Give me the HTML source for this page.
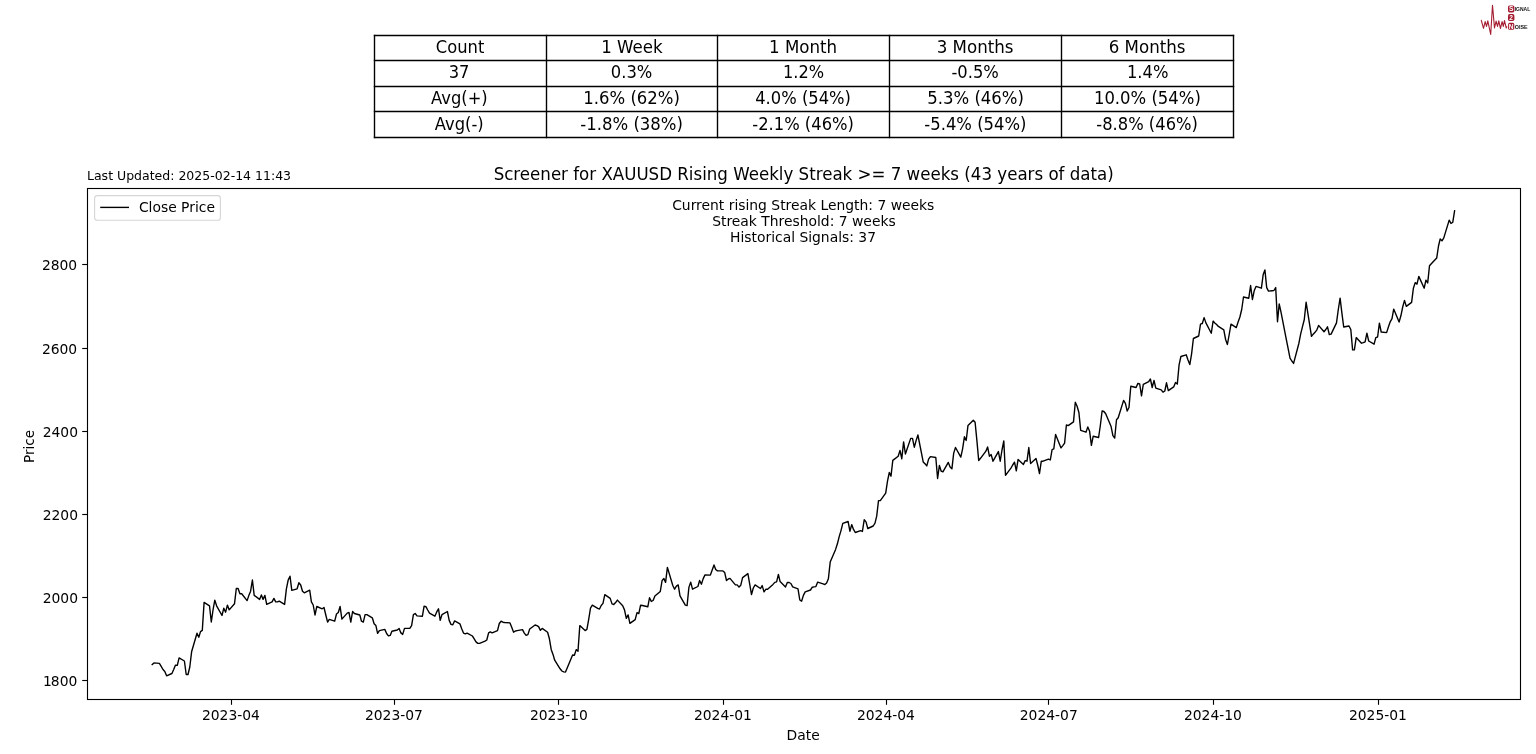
<!DOCTYPE html>
<html lang="en">
<head>
<meta charset="utf-8">
<title>Screener for XAUUSD Rising Weekly Streak</title>
<style>
html,body{margin:0;padding:0;background:#fff;}
body{width:1536px;height:754px;overflow:hidden;font-family:'DejaVu Sans','Liberation Sans',sans-serif;}
svg{display:block;}
</style>
</head>
<body>
<svg width="1536" height="754" viewBox="0 0 1536 754" font-family="'DejaVu Sans','Liberation Sans',sans-serif">
<rect width="1536" height="754" fill="#fff"/>
<g id="table" fill="none" stroke="#000" stroke-width="1.39" stroke-linecap="square">
<line x1="374.5" y1="35.5" x2="1233.5" y2="35.5"/>
<line x1="374.5" y1="60.5" x2="1233.5" y2="60.5"/>
<line x1="374.5" y1="86.5" x2="1233.5" y2="86.5"/>
<line x1="374.5" y1="111.5" x2="1233.5" y2="111.5"/>
<line x1="374.5" y1="137.5" x2="1233.5" y2="137.5"/>
<line x1="374.5" y1="35.5" x2="374.5" y2="137.5"/>
<line x1="546.5" y1="35.5" x2="546.5" y2="137.5"/>
<line x1="717.5" y1="35.5" x2="717.5" y2="137.5"/>
<line x1="889.5" y1="35.5" x2="889.5" y2="137.5"/>
<line x1="1061.5" y1="35.5" x2="1061.5" y2="137.5"/>
<line x1="1233.5" y1="35.5" x2="1233.5" y2="137.5"/>
</g>
<g id="table-text" font-size="16.67" text-anchor="middle" fill="#000">
<text transform="translate(460.10,53) scale(0.98,1.08)">Count</text>
<text transform="translate(631.90,53) scale(1.0,1.08)">1 Week</text>
<text transform="translate(803.10,53) scale(1.0,1.08)">1 Month</text>
<text transform="translate(975.10,53) scale(1.0,1.08)">3 Months</text>
<text transform="translate(1147.10,53) scale(1.0,1.08)">6 Months</text>
<text transform="translate(459.10,78) scale(0.98,1.08)">37</text>
<text transform="translate(631.60,78) scale(0.98,1.08)">0.3%</text>
<text transform="translate(803.50,78) scale(0.97,1.08)">1.2%</text>
<text transform="translate(975.10,78) scale(0.98,1.08)">-0.5%</text>
<text transform="translate(1147.70,78) scale(0.98,1.08)">1.4%</text>
<text transform="translate(459.40,104) scale(0.98,1.08)">Avg(+)</text>
<text transform="translate(631.60,104) scale(0.99,1.08)">1.6% (62%)</text>
<text transform="translate(803.10,104) scale(0.98,1.08)">4.0% (54%)</text>
<text transform="translate(975.60,104) scale(0.99,1.08)">5.3% (46%)</text>
<text transform="translate(1147.40,104) scale(0.988,1.08)">10.0% (54%)</text>
<text transform="translate(459.20,130) scale(0.98,1.08)">Avg(-)</text>
<text transform="translate(631.60,130) scale(0.99,1.08)">-1.8% (38%)</text>
<text transform="translate(803.10,130) scale(0.98,1.08)">-2.1% (46%)</text>
<text transform="translate(975.35,130) scale(0.985,1.08)">-5.4% (54%)</text>
<text transform="translate(1147.10,130) scale(0.98,1.08)">-8.8% (46%)</text>
</g>
<text transform="translate(803.70,180) scale(1,1.08)" font-size="16.67" text-anchor="middle">Screener for XAUUSD Rising Weekly Streak &gt;= 7 weeks (43 years of data)</text>
<text x="87.00" y="180" font-size="12.5">Last Updated: 2025-02-14 11:43</text>
<rect x="87.5" y="188.5" width="1433.0" height="511.0" fill="#fff" stroke="#000" stroke-width="1.11" stroke-linejoin="miter"/>
<g id="ticks" stroke="#000" stroke-width="1.11">
<line x1="231.5" y1="699.5" x2="231.5" y2="704.80"/>
<line x1="394.5" y1="699.5" x2="394.5" y2="704.80"/>
<line x1="558.5" y1="699.5" x2="558.5" y2="704.80"/>
<line x1="723.5" y1="699.5" x2="723.5" y2="704.80"/>
<line x1="886.5" y1="699.5" x2="886.5" y2="704.80"/>
<line x1="1048.5" y1="699.5" x2="1048.5" y2="704.80"/>
<line x1="1213.5" y1="699.5" x2="1213.5" y2="704.80"/>
<line x1="1378.5" y1="699.5" x2="1378.5" y2="704.80"/>
<line x1="87.5" y1="680.5" x2="82.20" y2="680.5"/>
<line x1="87.5" y1="597.5" x2="82.20" y2="597.5"/>
<line x1="87.5" y1="514.5" x2="82.20" y2="514.5"/>
<line x1="87.5" y1="431.5" x2="82.20" y2="431.5"/>
<line x1="87.5" y1="348.5" x2="82.20" y2="348.5"/>
<line x1="87.5" y1="264.5" x2="82.20" y2="264.5"/>
</g>
<g id="ticklabels" font-size="13.89" fill="#000">
<text x="230.90" y="720" text-anchor="middle">2023-04</text>
<text x="393.90" y="720" text-anchor="middle">2023-07</text>
<text x="558.90" y="720" text-anchor="middle">2023-10</text>
<text x="722.90" y="720" text-anchor="middle">2024-01</text>
<text x="885.90" y="720" text-anchor="middle">2024-04</text>
<text x="1048.80" y="720" text-anchor="middle">2024-07</text>
<text x="1212.90" y="720" text-anchor="middle">2024-10</text>
<text x="1377.90" y="720" text-anchor="middle">2025-01</text>
<text x="76.3" y="686" text-anchor="end"><tspan dx="1">1</tspan><tspan dx="-1">800</tspan></text>
<text x="78.0" y="603" text-anchor="end">2000</text>
<text x="78.0" y="520" text-anchor="end">2200</text>
<text x="78.0" y="437" text-anchor="end">2400</text>
<text x="77.2" y="354" text-anchor="end">2600</text>
<text x="77.2" y="270" text-anchor="end">2800</text>
</g>
<text x="803.20" y="740" font-size="13.89" text-anchor="middle">Date</text>
<text transform="translate(33.55,446.5) rotate(-90) scale(0.975,1)" font-size="13.89" text-anchor="middle">Price</text>
<g font-size="13.89" text-anchor="middle">
<text x="803.25" y="210">Current rising Streak Length: 7 weeks</text>
<text x="803.95" y="226">Streak Threshold: 7 weeks</text>
<text x="803.00" y="242">Historical Signals: 37</text>
</g>
<rect x="94.6" y="195.6" width="125.8" height="24.6" rx="2.8" ry="2.8" fill="#fff" fill-opacity="0.8" stroke="#ccc" stroke-opacity="0.8" stroke-width="1.11"/>
<line x1="100.2" y1="207.4" x2="129" y2="207.4" stroke="#000" stroke-width="1.39"/>
<text x="138.9" y="212" font-size="13.89">Close Price</text>
<polyline id="close" points="152.2,664.5 154.0,662.9 159.4,663.4 161.2,666.4 163.0,669.5 164.8,671.4 166.6,675.8 171.9,673.5 173.7,669.5 175.5,665.1 177.3,665.4 179.1,657.9 184.4,661.0 186.2,674.5 188.0,674.5 189.8,667.0 191.6,651.8 197.0,633.2 198.8,637.2 200.5,631.6 202.3,630.4 204.1,602.4 209.5,605.8 211.3,622.0 213.1,609.5 214.8,600.1 216.6,605.8 222.0,615.5 223.8,608.2 225.6,612.2 227.4,605.1 229.2,609.9 234.5,603.8 236.3,588.5 238.1,588.5 239.9,593.8 241.7,593.8 247.1,600.6 248.8,595.6 250.6,591.2 252.4,580.0 254.2,595.4 259.6,599.4 261.4,595.0 263.1,599.4 264.9,595.4 266.7,604.4 272.1,601.9 273.9,598.4 275.7,601.9 277.5,601.9 279.2,601.2 284.6,604.4 286.4,588.8 288.2,580.0 290.0,576.2 291.8,590.4 297.1,588.8 298.9,582.8 300.7,585.0 302.5,591.2 304.3,592.8 309.7,590.2 311.4,601.9 313.2,605.0 315.0,615.0 316.8,606.5 322.2,608.8 324.0,607.5 325.8,615.0 327.6,622.1 329.3,619.4 334.7,621.2 336.5,614.0 338.3,612.5 340.1,606.5 341.9,619.1 347.2,613.1 349.0,612.5 350.8,622.1 352.6,611.5 354.4,613.5 359.8,615.0 361.5,621.2 363.3,622.1 365.1,614.6 366.9,614.6 372.3,617.8 374.1,623.8 375.9,625.6 377.6,633.4 379.4,630.6 384.8,629.4 386.6,633.5 388.4,635.9 390.2,635.4 391.9,631.2 397.3,630.0 399.1,628.5 400.9,632.9 402.7,634.4 404.5,628.4 409.8,628.4 411.6,625.6 413.4,614.6 415.2,613.5 417.0,615.9 422.4,616.2 424.1,606.2 425.9,606.6 427.7,610.0 429.5,613.1 434.9,616.2 436.7,611.9 438.5,608.8 440.2,620.4 442.0,614.6 447.4,611.5 449.2,620.4 451.0,624.4 452.8,624.8 454.6,620.9 459.9,623.8 461.7,628.8 463.5,633.1 465.3,633.8 467.1,633.1 472.4,636.0 474.2,638.8 476.0,641.9 477.8,643.4 479.6,643.4 485.0,641.2 486.8,640.0 488.6,632.9 490.3,631.9 492.1,632.9 497.5,630.6 499.3,623.5 501.1,621.2 502.9,622.2 504.6,622.5 510.0,622.9 511.8,627.5 513.6,632.2 515.4,631.0 517.2,630.6 522.5,629.6 524.3,633.1 526.1,635.4 527.9,634.6 529.7,629.0 535.1,625.0 536.9,625.6 538.6,626.6 540.4,630.4 542.2,628.4 547.6,632.2 549.4,638.8 551.2,649.4 553.0,654.4 554.7,660.2 560.1,668.8 561.9,671.0 563.7,671.9 565.5,672.1 567.3,667.8 572.6,655.0 574.4,655.2 576.2,649.6 578.0,651.2 579.8,625.6 585.1,630.6 586.9,629.4 588.7,619.3 590.5,608.1 592.3,605.2 597.7,608.4 599.5,609.0 601.2,605.5 603.0,603.4 604.8,594.6 610.2,598.4 612.0,603.9 613.8,604.5 615.6,602.6 617.4,600.1 622.7,605.8 624.5,609.9 626.3,618.4 628.1,614.9 629.9,623.4 635.2,619.6 637.0,612.6 638.8,613.6 640.6,605.2 642.4,605.5 647.8,606.8 649.5,597.8 651.3,601.4 653.1,600.5 654.9,596.1 660.3,591.4 662.1,580.5 663.9,578.6 665.6,582.4 667.4,567.4 672.8,585.5 674.6,589.2 676.4,586.1 678.2,584.9 680.0,595.9 685.3,605.1 687.1,605.5 688.9,587.4 690.7,582.1 692.5,589.2 697.9,586.5 699.6,580.5 701.4,584.2 703.2,578.6 705.0,574.9 710.4,575.1 712.2,569.9 714.0,564.9 715.7,569.5 717.5,570.9 722.9,570.9 724.7,572.6 726.5,580.5 728.3,579.0 730.0,578.4 735.4,584.9 737.2,584.9 739.0,587.1 740.8,585.2 742.6,577.6 747.9,573.6 749.7,584.2 751.5,594.6 753.3,588.0 755.1,584.9 760.5,588.5 762.2,585.6 764.0,591.9 765.8,589.3 767.6,589.2 773.0,584.4 774.8,582.4 776.6,581.9 778.4,574.4 780.1,581.6 785.5,586.9 787.3,582.5 789.1,582.5 790.9,583.5 792.7,586.9 798.0,588.8 799.8,600.0 801.6,601.2 803.4,595.4 805.2,591.9 810.5,590.0 812.3,587.2 814.1,586.9 815.9,586.6 817.7,582.1 823.1,583.8 824.9,584.6 826.6,583.1 828.4,578.8 830.2,562.1 835.6,549.4 837.4,543.8 839.2,536.6 841.0,530.6 842.8,523.4 848.1,521.5 849.9,531.2 851.7,524.6 853.5,529.4 855.3,532.5 860.6,530.6 862.4,531.5 864.2,519.8 866.0,521.9 867.8,528.5 873.2,526.0 875.0,523.1 876.7,516.2 878.5,500.6 880.3,500.6 885.7,493.1 887.5,481.2 889.3,472.5 891.0,476.2 892.8,460.4 898.2,456.2 900.0,450.4 901.8,458.8 903.6,441.9 905.4,454.0 910.7,438.4 912.5,438.4 914.3,447.2 916.1,440.6 917.9,435.0 923.2,461.9 925.0,463.8 926.8,465.9 928.6,459.1 930.4,456.6 935.8,457.5 937.6,478.5 939.4,465.4 941.1,471.0 942.9,471.8 948.3,462.4 950.1,466.9 951.9,468.8 953.7,453.1 955.5,447.5 960.8,457.1 962.6,448.8 964.4,436.8 966.2,440.5 968.0,425.4 973.3,420.2 975.1,422.2 976.9,440.6 978.7,460.5 980.5,458.3 985.9,451.2 987.6,446.9 989.4,456.2 991.2,454.6 993.0,461.2 998.4,451.6 1000.2,461.2 1002.0,450.0 1003.8,440.9 1005.5,475.3 1010.9,468.1 1012.7,465.0 1014.5,462.2 1016.3,470.9 1018.1,459.4 1023.4,464.4 1025.2,460.6 1027.0,461.2 1028.8,447.5 1030.6,463.5 1036.0,458.4 1037.7,465.0 1039.5,473.5 1041.3,461.2 1043.1,461.2 1048.5,459.1 1050.3,460.0 1052.1,449.6 1053.8,448.8 1055.6,434.4 1061.0,447.9 1062.8,445.6 1064.6,443.1 1066.4,425.0 1068.2,425.6 1073.5,421.9 1075.3,402.2 1077.1,406.2 1078.9,412.5 1080.7,430.4 1086.0,432.2 1087.8,426.9 1089.6,431.2 1091.4,445.4 1093.2,436.2 1098.6,437.5 1100.4,425.0 1102.1,411.0 1103.9,411.5 1105.7,413.8 1111.1,426.6 1112.9,435.6 1114.7,438.1 1116.5,419.8 1118.2,417.8 1123.6,400.4 1125.4,403.4 1127.2,411.0 1129.0,407.5 1130.8,386.2 1136.1,387.5 1137.9,383.4 1139.7,384.0 1141.5,395.9 1143.3,384.4 1148.7,381.6 1150.4,379.0 1152.2,387.5 1154.0,380.4 1155.8,388.1 1161.2,389.8 1163.0,392.2 1164.8,391.0 1166.5,382.8 1168.3,390.6 1173.7,386.9 1175.5,382.5 1177.3,384.1 1179.1,364.8 1180.9,356.5 1186.2,354.8 1188.0,360.0 1189.8,364.6 1191.6,353.8 1193.4,338.5 1198.7,336.0 1200.5,324.1 1202.3,323.5 1204.1,317.6 1205.9,322.9 1211.3,333.2 1213.1,321.1 1214.8,322.9 1216.6,324.5 1218.4,326.4 1223.8,329.8 1225.6,339.5 1227.4,344.5 1229.2,334.5 1231.0,324.1 1236.3,327.6 1238.1,322.0 1239.9,317.0 1241.7,309.5 1243.5,297.0 1248.8,298.2 1250.6,285.5 1252.4,299.5 1254.2,290.8 1256.0,286.4 1261.4,288.2 1263.2,274.5 1264.9,269.9 1266.7,287.6 1268.5,291.1 1273.9,290.5 1275.7,287.6 1277.5,321.8 1279.2,303.9 1281.0,312.2 1286.4,339.8 1288.2,348.9 1290.0,358.1 1291.8,361.0 1293.6,363.4 1298.9,343.2 1300.7,333.9 1302.5,326.6 1304.3,319.5 1306.1,302.2 1311.5,336.4 1313.2,334.2 1315.0,332.2 1316.8,330.1 1318.6,325.4 1324.0,331.8 1325.8,329.5 1327.5,326.8 1329.3,334.5 1331.1,334.1 1336.5,322.9 1338.3,309.5 1340.1,298.2 1341.9,313.2 1343.7,327.0 1349.0,326.0 1350.8,329.5 1352.6,349.9 1354.4,349.9 1356.2,337.6 1361.5,343.2 1363.3,342.6 1365.1,341.8 1366.9,333.2 1368.7,341.0 1374.1,344.2 1375.8,337.6 1377.6,337.0 1379.4,323.2 1381.2,332.0 1386.6,332.6 1388.4,327.0 1390.2,321.8 1392.0,318.6 1393.7,309.1 1399.1,322.0 1400.9,315.8 1402.7,307.0 1404.5,300.4 1406.3,306.4 1411.6,302.4 1413.4,288.2 1415.2,282.6 1417.0,284.1 1418.8,276.4 1424.2,288.2 1425.9,280.1 1427.7,282.9 1429.5,265.8 1431.3,263.8 1436.7,258.1 1438.5,246.0 1440.2,238.9 1442.0,240.8 1443.8,237.9 1449.2,220.1 1451.0,223.5 1452.8,222.2 1454.6,210.8" fill="none" stroke="#000" stroke-width="1.39" stroke-linejoin="round" stroke-linecap="square"/>
<defs><filter id="soft" x="-10%" y="-10%" width="120%" height="120%"><feGaussianBlur stdDeviation="0.7"/></filter></defs>
<g id="logo" font-family="'Liberation Sans','DejaVu Sans',sans-serif" font-weight="bold" filter="url(#soft)">
<polyline points="1481.3,20.4 1483.5,28.3 1485.2,21.6 1486.5,26.4 1487.8,20.9 1490.7,34.5 1492.5,5.3 1494.5,28 1496.1,21.1 1497.5,26.4 1498.8,20.9 1500.4,28.5 1502.1,21.6 1503.3,26.4 1504.5,20.6 1506.2,28 1506.8,26.8" fill="none" stroke="#a51c30" stroke-width="1.1" stroke-linejoin="round" stroke-linecap="round"/>
<rect x="1508" y="5.4" width="6.4" height="7" rx="1.6" ry="1.6" fill="#a51c30"/>
<rect x="1508" y="14.1" width="6.4" height="6.8" rx="1.6" ry="1.6" fill="#a51c30"/>
<rect x="1508.1" y="22.8" width="6.2" height="7" rx="1.6" ry="1.6" fill="#a51c30"/>
<text x="1511.2" y="11.3" font-size="6.6" fill="#fff" text-anchor="middle">S</text>
<text x="1511.2" y="19.9" font-size="6.6" fill="#fff" text-anchor="middle">2</text>
<text x="1511.2" y="28.7" font-size="6.6" fill="#fff" text-anchor="middle">N</text>
<text x="1514.7" y="11.1" font-size="5.7" fill="#111" textLength="15.6" lengthAdjust="spacingAndGlyphs">IGNAL</text>
<text x="1514.7" y="28.6" font-size="6.1" fill="#111" textLength="12.9" lengthAdjust="spacingAndGlyphs">OISE</text>
</g>

</svg>
</body>
</html>
